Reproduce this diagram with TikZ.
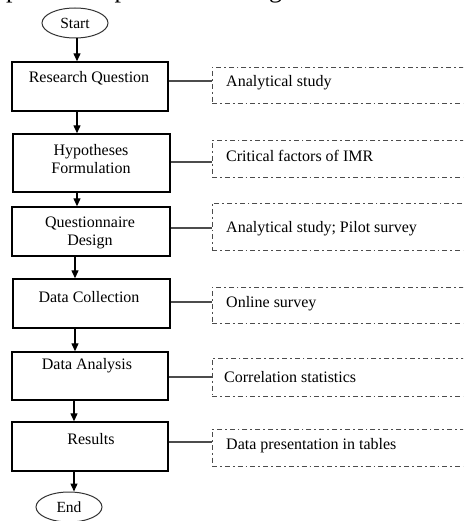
\documentclass[tikz,border=0pt]{standalone}
\usepackage{fontspec}
\setmainfont{Liberation Serif}
\usetikzlibrary{arrows.meta,shapes.geometric}
\begin{document}
\begin{tikzpicture}[x=1pt,y=-1pt,
  procbox/.style={draw=black,line width=1.4pt,rectangle,inner sep=0pt},
  notebox/.style={draw=black!70,line width=0.9pt,rectangle,inner sep=0pt,
    dash pattern=on 5pt off 3pt on 1.8pt off 3pt},
  term/.style={draw=black!80,line width=1pt,ellipse,inner sep=0pt,
    minimum width=66pt,minimum height=30pt,font=\fontsize{15.5}{17}\selectfont},
  lbl/.style={inner sep=0pt,font=\fontsize{16}{17.5}\selectfont,align=center},
  nlbl/.style={inner sep=0pt,anchor=west,font=\fontsize{16}{17.5}\selectfont},
  arr/.style={line width=1.3pt,-{Triangle[width=7pt,length=8pt]}},
  conn/.style={line width=1.3pt,draw=black!70}]
\useasboundingbox (0,0) rectangle (463,521);
\clip (0,0) rectangle (463,521);
% cut-off caption line at top
\node[inner sep=0pt,anchor=base west,font=\fontsize{26}{28}\selectfont] (cap) at (6,-2) {process is presented in Figure 2.};
% terminals
\node[term] (start) at (75,23) {Start};
\node[term] (end) at (69,507) {End};
% process boxes
\node[procbox,minimum width=156pt,minimum height=49pt] (b1) at (90,86.5) {};
\node[procbox,minimum width=157pt,minimum height=58pt] (b2) at (91.5,163) {};
\node[procbox,minimum width=158pt,minimum height=49pt] (b3) at (91,231.5) {};
\node[procbox,minimum width=157pt,minimum height=49pt] (b4) at (91.5,303.5) {};
\node[procbox,minimum width=156pt,minimum height=48pt] (b5) at (90,376) {};
\node[procbox,minimum width=156pt,minimum height=49pt] (b6) at (90,446.5) {};
% process labels
\node[lbl] (t1) at (89,78) {Research Question};
\node[lbl] (t2) at (91,159) {Hypotheses\\Formulation};
\node[lbl] (t3) at (90,233) {Questionnaire\\Design};
\node[lbl] (t4) at (89,297) {Data Collection};
\node[lbl] (t5) at (87,366) {Data Analysis};
\node[lbl] (t6) at (91,439) {Results};
% note boxes
\node[notebox,minimum width=268pt,minimum height=36pt] (d1) at (346,85) {};
\node[notebox,minimum width=268pt,minimum height=37pt] (d2) at (346,158.5) {};
\node[notebox,minimum width=268pt,minimum height=47pt] (d3) at (346,226.5) {};
\node[notebox,minimum width=268pt,minimum height=36pt] (d4) at (346,305) {};
\node[notebox,minimum width=268pt,minimum height=38pt] (d5) at (346,377) {};
\node[notebox,minimum width=268pt,minimum height=37pt] (d6) at (346,447.5) {};
% note labels
\node[nlbl] (n1) at (226,83) {Analytical study};
\node[nlbl] (n2) at (226,156) {Critical factors of IMR};
\node[nlbl] (n3) at (226,229) {Analytical study; Pilot survey};
\node[nlbl] (n4) at (226,304) {Online survey};
\node[nlbl] (n5) at (224,377) {Correlation statistics};
\node[nlbl] (n6) at (226,446) {Data presentation in tables};
% connector heights
\coordinate (c1) at (0,81);
\coordinate (c2) at (0,162);
\coordinate (c3) at (0,228);
\coordinate (c4) at (0,302);
\coordinate (c5) at (0,377);
\coordinate (c6) at (0,442);
\draw[conn] (b1.east |- c1) -- (d1.west |- c1);
\draw[conn] (b2.east |- c2) -- (d2.west |- c2);
\draw[conn] (b3.east |- c3) -- (d3.west |- c3);
\draw[conn] (b4.east |- c4) -- (d4.west |- c4);
\draw[conn] (b5.east |- c5) -- (d5.west |- c5);
\draw[conn] (b6.east |- c6) -- (d6.west |- c6);
% arrow columns
\coordinate (x1) at (77,0);
\coordinate (x2) at (75,0);
\coordinate (x3) at (74,0);
\draw[arr] (x1 |- start.south) -- (x1 |- b1.north);
\draw[arr] (x1 |- b1.south) -- (x1 |- b2.north);
\draw[arr] (x1 |- b2.south) -- (x1 |- b3.north);
\draw[arr] (x2 |- b3.south) -- (x2 |- b4.north);
\draw[arr] (x2 |- b4.south) -- (x2 |- b5.north);
\draw[arr] (x3 |- b5.south) -- (x3 |- b6.north);
\draw[arr] (x3 |- b6.south) -- (x3 |- end.north);
\end{tikzpicture}
\end{document}
